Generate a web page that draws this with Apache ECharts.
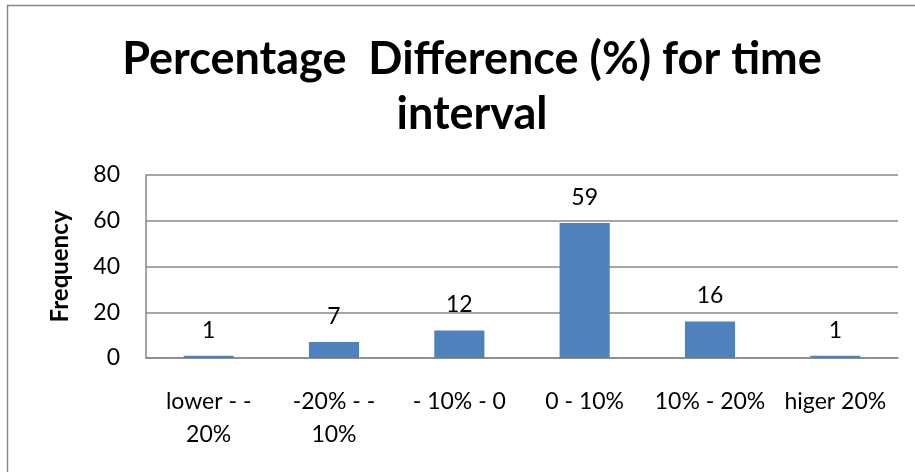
<!DOCTYPE html>
<html><head><meta charset="utf-8">
<script src="https://cdn.jsdelivr.net/npm/echarts@6/dist/echarts.min.js"></script>
<style>html,body{margin:0;padding:0;background:#fff}#c{width:915px;height:472px}</style>
</head><body><div id="c"></div>
<script>
const categories = ['lower - -\n20%', '-20% - -\n10%', '- 10% - 0', '0 - 10%', '10% - 20%', 'higer 20%'];
const frequency = [1, 7, 12, 59, 16, 1];
const yTicks = { min: 0, max: 80, interval: 20 };
const titleText = 'Percentage  Difference (%) for time\ninterval';
const yName = 'Frequency';

const FONT = 'Lato';
const chart = echarts.init(document.getElementById('c'), null, { renderer: 'canvas' });
chart.setOption({
  animation: false,
  backgroundColor: '#fff',
  graphic: [
    { type: 'polyline', shape: { points: [[7.5, 472], [7.5, 5.5], [915, 5.5]] }, style: { stroke: '#878787', lineWidth: 1.5, fill: null } }
  ],
  title: {
    text: titleText,
    left: 467, top: 27, textAlign: 'center',
    textStyle: { fontFamily: FONT, fontSize: 45, fontWeight: 'bold', color: '#000', lineHeight: 55 }
  },
  grid: { left: 146, right: 17, top: 175, bottom: 114, containLabel: false },
  xAxis: {
    type: 'category', data: categories,
    axisLine: { lineStyle: { color: '#878787', width: 1.5 } },
    axisTick: { show: false },
    axisLabel: { fontFamily: FONT, fontSize: 23, color: '#000', margin: 27, lineHeight: 33, interval: 0 }
  },
  yAxis: {
    type: 'value', min: yTicks.min, max: yTicks.max, interval: yTicks.interval,
    name: yName, nameLocation: 'middle', nameGap: 74, nameRotate: 90,
    nameTextStyle: { fontFamily: FONT, fontSize: 24, fontWeight: 'bold', color: '#000' },
    axisLine: { show: true, lineStyle: { color: '#878787', width: 1.5 } },
    axisTick: { show: false },
    splitLine: { lineStyle: { color: '#878787', width: 1.5 } },
    axisLabel: { fontFamily: FONT, fontSize: 23, color: '#000', margin: 26 }
  },
  series: [{
    type: 'bar', data: frequency, barWidth: '40%',
    itemStyle: { color: '#4F81BD' },
    label: { show: true, position: 'top', distance: 14, fontFamily: FONT, fontSize: 23, color: '#000' }
  }]
});
</script></body></html>
